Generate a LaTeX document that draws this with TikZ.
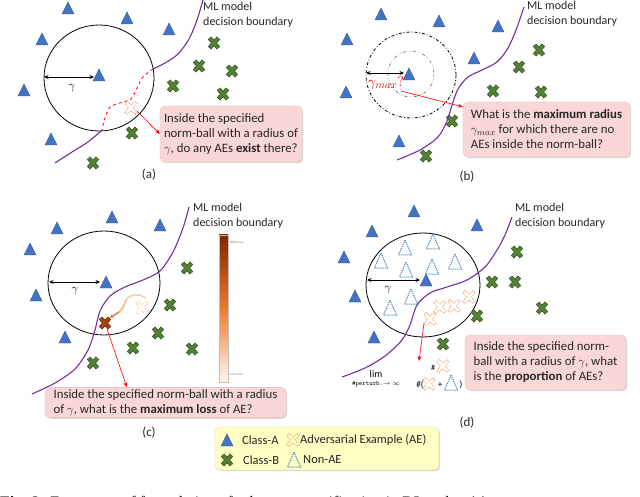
\documentclass[tikz,border=0pt]{standalone}
\usepackage{fontspec}
\setmainfont{Carlito}
\newfontfamily\capfont{Liberation Serif}
\usetikzlibrary{arrows.meta,shadows,calc}

\definecolor{triblue}{HTML}{4472C4}
\definecolor{tribluedk}{HTML}{2F528F}
\definecolor{crossgreen}{HTML}{548235}
\definecolor{crossgreendk}{HTML}{385723}
\definecolor{aeorange}{HTML}{F4A46A}
\definecolor{aelight}{HTML}{F8CBAD}
\definecolor{aebrown}{HTML}{A0480F}
\definecolor{aebrowndk}{HTML}{5E2806}
\definecolor{nonaeblue}{HTML}{2E75B6}
\definecolor{boundary}{HTML}{7030A0}
\definecolor{pinkbox}{HTML}{F9D7D7}
\definecolor{pinkedge}{HTML}{E3B5B5}
\definecolor{legendfill}{HTML}{FFFFC4}
\definecolor{legendedge}{HTML}{D8D8A0}
\definecolor{txt}{HTML}{262626}
\definecolor{lossdark}{HTML}{7F2704}
\definecolor{lossmid}{HTML}{EE7A2E}
\definecolor{losslight}{HTML}{FFF8F2}

\tikzset{
  pics/triA/.style={code={\filldraw[fill=triblue,draw=tribluedk,line width=0.4pt] (-6,5) -- (6,5) -- (0,-7) -- cycle;}},
  pics/crossB/.style={code={
    \draw[crossgreendk,line width=4.4pt] (-4.5,-5)--(4.5,5) (-4.5,5)--(4.5,-5);
    \draw[crossgreen,line width=2.8pt,shorten >=0.6pt,shorten <=0.6pt] (-4.5,-5)--(4.5,5) (-4.5,5)--(4.5,-5);}},
  pics/aeDark/.style={code={
    \draw[aebrowndk,line width=4.4pt] (-4.5,-5)--(4.5,5) (-4.5,5)--(4.5,-5);
    \draw[aebrown,line width=2.8pt,shorten >=0.6pt,shorten <=0.6pt] (-4.5,-5)--(4.5,5) (-4.5,5)--(4.5,-5);}},
  pics/aeX/.style={code={\draw[aeorange,densely dotted,line width=0.9pt]
    (0,-2.8)--(4,-6.5)--(6,-4.5)--(2.6,0)--(6,4.5)--(4,6.5)--(0,2.8)--(-4,6.5)--(-6,4.5)--(-2.6,0)--(-6,-4.5)--(-4,-6.5)--cycle;}},
  pics/aeLight/.style={code={\draw[aelight,densely dotted,line width=0.9pt]
    (0,-2.8)--(4,-6.5)--(6,-4.5)--(2.6,0)--(6,4.5)--(4,6.5)--(0,2.8)--(-4,6.5)--(-6,4.5)--(-2.6,0)--(-6,-4.5)--(-4,-6.5)--cycle;}},
  pics/nonae/.style={code={\draw[nonaeblue,densely dotted,line width=1pt] (-6.5,7) -- (6.5,7) -- (0,-8) -- cycle;}},
  bnd/.style={boundary,line width=1.1pt},
  ball/.style={black,line width=0.8pt},
  gam/.style={{Stealth[length=4.5pt,width=4pt]}-{Stealth[length=4.5pt,width=4pt]},line width=0.8pt},
  redarrow/.style={red,line width=0.6pt,-{Stealth[length=5pt,width=4pt]}},
  question/.style={fill=pinkbox,draw=pinkedge,line width=0.3pt,rounded corners=5pt,
    drop shadow={shadow xshift=1.2pt,shadow yshift=-1.2pt,opacity=0.3},
    align=left,font=\fontsize{12.8}{15}\selectfont,text=txt,inner sep=2pt},
  mllabel/.style={anchor=north west,align=left,font=\fontsize{12}{15}\selectfont,inner sep=0pt,text=txt},
  panel/.style={font=\fontsize{13}{15}\selectfont,text=txt},
  gamlabel/.style={font=\fontsize{12}{14}\selectfont},
  leg/.style={anchor=west,font=\fontsize{12.5}{14}\selectfont,inner sep=0pt,text=txt},
}

\begin{document}
\begin{tikzpicture}[x=1pt,y=-1pt]
\useasboundingbox (0,0) rectangle (640,497);

% ================= Panel (a) =================
\draw[ball] (99,78) ellipse [x radius=55,y radius=53];
\foreach \p in {(68,9),(127,19),(169,30),(42,40),(99,76),(24,91),(51,140)} \pic at \p {triA};
\foreach \p in {(214,43),(199,66),(232,71),(173,86),(223,94),(132,133),(93,163)} \pic at \p {crossB};
\coordinate (gaL) at (44,77); \coordinate (gaR) at (94,77);
\draw[gam] (gaL) -- (gaR);
\node[gamlabel] (ga) at (72,88) {$\gamma$};
\draw[bnd] plot[smooth] coordinates {(203,0) (197,20) (189,39) (178,54) (165,63) (153,69)};
\draw[red,dashed,line width=0.8pt] plot[smooth] coordinates {(153,69) (143,77) (137,88) (131,99) (120,103) (110,107) (105,118) (102,130)};
\draw[bnd] plot[smooth] coordinates {(102,130) (88,142) (72,152) (55,163)};
\pic at (131,108) {aeX};
\node[mllabel] (mla) at (203,2) {ML model\\decision boundary};
\node[question,minimum width=142,minimum height=56] (qa) at (231,134)
  {Inside the specified\\norm-ball with a radius of\\$\gamma$, do any AEs \textbf{exist} there?};
\coordinate (aeA) at (137,111);
\draw[redarrow] (aeA) -- (qa.west);
\node[panel] (pa) at (149,175) {(a)};

% ================= Panel (b) =================
\draw[black,line width=0.8pt,dash dot] (411,75) ellipse [x radius=45,y radius=43];
\draw[gray!60!black,line width=0.5pt,dash dot dot] (411,74) circle (23);
\foreach \p in {(381,15),(439,22),(498,27),(347,40),(474,59),(409,75),(346,93),(399,142)} \pic at \p {triA};
\foreach \p in {(539,50),(519,67),(493,91),(541,92),(452,121),(426,156)} \pic at \p {crossB};
\coordinate (gbL) at (366,73); \coordinate (gbR) at (404,73);
\draw[gam] (gbL) -- (gbR);
\node[font=\fontsize{15}{17}\selectfont,text=red,inner sep=0pt] (gmax) at (386,83) {$\gamma_{max}?$};
\draw[bnd] plot[smooth] coordinates {(524,7) (516,30) (508,48) (497,62) (482,70) (468,77) (458,89) (452,105) (447,121) (438,137) (420,150) (397,160)};
\node[mllabel] (mlb) at (527,1) {ML model\\decision boundary};
\node[question,minimum width=167,minimum height=55] (qb) at (546.5,129.5)
  {What is the \textbf{maximum radius}\\$\gamma_{max}$ for which there are no\\AEs inside the norm-ball?};
\coordinate (gmaxout) at (401,91);
\draw[redarrow] (gmaxout) -- ($(qb.north west)+(0,5)$);
\node[panel] (pb) at (467,177) {(b)};

% ================= Panel (c) =================
\draw[ball] (104,283) ellipse [x radius=56,y radius=52];
\foreach \p in {(112,218),(57,229),(160,226),(30,250),(106,283),(36,296),(65,338)} \pic at \p {triA};
\foreach \p in {(187,268),(170,305),(158,333),(133,348),(192,349),(93,363)} \pic at \p {crossB};
\coordinate (gcL) at (49,282); \coordinate (gcR) at (100,282);
\draw[gam] (gcL) -- (gcR);
\node[gamlabel] (gc) at (75,291) {$\gamma$};
\draw[bnd] plot[smooth] coordinates {(189,207) (183,228) (173,252) (160,271) (143,280) (125,287) (110,296) (100,311) (95,330) (88,350) (75,369) (55,383) (32,394)};
\pic at (142,308) {aeLight};
\draw[aelight,line width=1.4pt] (146,298) .. controls (138,293) and (130,294) .. (126,300);
\draw[aeorange!80!aelight,line width=1.4pt] (126,300) .. controls (124,305) and (123,309) .. (119,312);
\draw[aeorange!60!aebrown,line width=1.4pt,-{Stealth[length=4pt,width=4pt]}] (119,312) .. controls (116,314) and (114,315) .. (110,318);
\pic at (105,323) {aeDark};
\shade[top color=lossdark,bottom color=losslight,middle color=lossmid] (219,235) rectangle (228,382);
\draw[gray!50,line width=0.3pt] (219,235) rectangle (228,382);
\node[anchor=west,font=\fontsize{3.5}{4}\selectfont,text=gray,inner sep=0pt] (hl) at (230,243) {High Loss};
\node[anchor=west,font=\fontsize{3.5}{4}\selectfont,text=gray,inner sep=0pt] (ll) at (230,374) {Low Loss};
\node[mllabel] (mlc) at (193,203) {ML model\\decision boundary};
\node[question,minimum width=241,minimum height=29] (qc) at (165.5,402.5)
  {Inside the specified norm-ball with a radius\\of $\gamma$, what is the \textbf{maximum loss} of AE?};
\coordinate (aeC) at (107,329);
\draw[redarrow] (aeC) -- ($(qc.north west)+(82,0)$);
\node[panel] (pc) at (149,433) {(c)};

% ================= Panel (d) =================
\draw[ball] (423,285) ellipse [x radius=57,y radius=52];
\foreach \p in {(414,212),(477,226),(372,232),(344,258),(426,281),(355,297),(374,338)} \pic at \p {triA};
\foreach \p in {(405,248),(433,242),(381,261),(406,270),(432,267),(455,262),(411,297),(390,308)} \pic at \p {nonae};
\foreach \p in {(469,297),(454,306),(440,307),(430,319)} \pic at \p {aeX};
\foreach \p in {(517,252),(492,282),(515,282),(542,308),(477,316),(443,344)} \pic at \p {crossB};
\coordinate (gdL) at (367,280); \coordinate (gdR) at (420,280);
\draw[gam] (gdL) -- (gdR);
\node[gamlabel] (gd) at (388,290) {$\gamma$};
\draw[bnd] plot[smooth] coordinates {(512,217) (505,235) (497,250) (485,267) (467,280) (447,287) (430,293) (417,305) (410,325) (402,340) (385,356) (365,368) (342,377)};
\node[mllabel] (mld) at (515,203) {ML model\\decision boundary};
% formula
\node[font=\fontsize{10}{12}\selectfont,inner sep=0pt] (lim) at (376,374) {$\lim$};
\node[font=\fontsize{6.5}{8}\selectfont\ttfamily,inner sep=0pt] (limsub) at (376,384) {\#perturb.$\to\infty$};
\node[font=\fontsize{8}{9}\selectfont,inner sep=0pt] (numh) at (433,368) {\#};
\begin{scope}[shift={(443,366)},scale=0.7] \pic {aeX}; \end{scope}
\node[font=\fontsize{9}{10}\selectfont,inner sep=0pt] (denh) at (420,385) {\#(};
\begin{scope}[shift={(429,384)},scale=0.7] \pic {aeX}; \end{scope}
\node[font=\fontsize{9}{10}\selectfont,inner sep=0pt] (plus) at (440,385) {+};
\begin{scope}[shift={(451,383)},scale=0.7] \pic {nonae}; \end{scope}
\node[font=\fontsize{9}{10}\selectfont,inner sep=0pt] (rpar) at (461,385) {)};
\coordinate (aeD) at (424,323);
\draw[redarrow] (aeD) -- ($(numh.north)+(-14,-4)$);
\node[question,minimum width=161,minimum height=55] (qd) at (545.5,362.5)
  {Inside the specified norm-\\ball with a radius of $\gamma$, what\\is the \textbf{proportion} of AEs?};
\node[panel] (pd) at (467,423) {(d)};

% ================= Legend =================
\node[fill=legendfill,draw=legendedge,line width=0.3pt,rounded corners=5pt,
  drop shadow={shadow xshift=1.2pt,shadow yshift=-1.2pt,opacity=0.3},
  minimum width=224,minimum height=43] (legend) at (327,448.5) {};
\pic at (227,441) {triA};
\node[leg] (lca) at (242,440) {Class-A};
\pic at (293,440) {aeX};
\node[leg] (lae) at (300,440) {Adversarial Example (AE)};
\pic at (227,460) {crossB};
\node[leg] (lcb) at (243,460) {Class-B};
\pic at (294,460) {nonae};
\node[leg] (lnae) at (303,460) {Non-AE};

% ================= Caption (cut off at the lower edge, as in the reference) =================
\begin{scope}
\clip (0,0) rectangle (640,497);
\node[anchor=base west,font=\capfont\fontsize{16}{18}\selectfont,inner sep=0pt] (caption) at (0,507)
  {\textbf{Fig. 2:} Four types of formulation of robustness verification in DL tasks: (a)};
\end{scope}
\end{tikzpicture}
\end{document}
